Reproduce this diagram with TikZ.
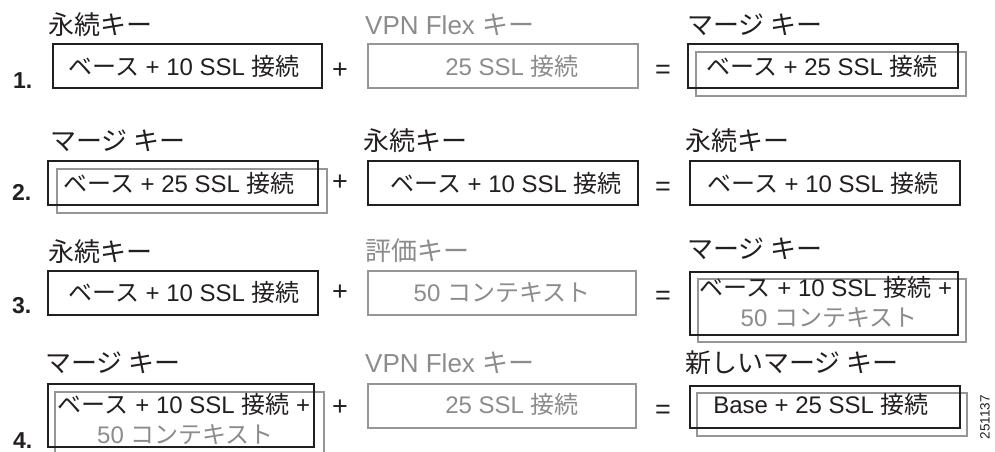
\documentclass[tikz,border=0pt]{standalone}
\usepackage{fontspec}
\setmainfont{Liberation Sans}
\newfontfamily\jpfont{Noto Sans CJK JP}
\newcommand{\J}[1]{{\jpfont #1}}
\definecolor{ink}{RGB}{35,31,32}
\definecolor{lgray}{RGB}{150,150,150}
\definecolor{tgray}{RGB}{140,140,140}
\tikzset{
  kbox/.style={draw=ink, line width=2.3pt, inner sep=0pt, outer sep=0pt, minimum width=270pt, minimum height=44pt},
  gbox/.style={kbox, draw=lgray, line width=2pt},
  btxt/.style={anchor=base, inner sep=0pt, text=ink, font=\fontsize{24}{28}\selectfont},
  gtxt/.style={btxt, text=tgray},
  lbl/.style={anchor=base west, inner sep=0pt, text=ink, font=\fontsize{26}{30}\selectfont},
  glbl/.style={lbl, text=tgray},
  op/.style={anchor=base, inner sep=0pt, text=ink, font=\fontsize{27}{30}\selectfont},
  num/.style={anchor=base west, inner sep=0pt, text=ink, font=\fontsize{23}{26}\selectfont\bfseries},
}
\begin{document}
\begin{tikzpicture}[x=1pt,y=-1pt]
\fill[white] (0,0) rectangle (995,452);
\useasboundingbox (0,0) rectangle (995,452);
\clip (0,0) rectangle (995,452);

% ---------- Row 1 ----------
\node[num] (n1) at (13,88) {1.};
\node[lbl] (l11) at (48,35) {\J{永続キー}};
\node[kbox, minimum width=269pt] (b11) at (187.5,66) {};
\node[btxt] (t11) at (184,75) {\J{ベース} + 10 SSL \J{接続}};
\node[op] (p1) at (340,78) {+};
\node[glbl] (l12) at (365,35) {VPN Flex \J{キー}};
\node[gbox] (b12) at (503,66) {};
\node[gtxt] (t12) at (512,75) {25 SSL \J{接続}};
\node[op] (e1) at (663,78) {=};
\node[lbl] (l13) at (687,35) {\J{マージ キー}};
\node[gbox] (g13) at (831,74) {};
\node[kbox] (b13) at (823,66) {};
\node[btxt] (t13) at (822,75) {\J{ベース} + 25 SSL \J{接続}};

% ---------- Row 2 ----------
\node[num] (n2) at (12,200) {2.};
\node[lbl] (l21) at (50,150) {\J{マージ キー}};
\node[gbox] (g21) at (192,191) {};
\node[kbox] (b21) at (183,183) {};
\node[btxt] (t21) at (179,192) {\J{ベース} + 25 SSL \J{接続}};
\node[op] (p2) at (340,190) {+};
\node[lbl] (l22) at (363,150) {\J{永続キー}};
\node[kbox] (b22) at (503,183) {};
\node[btxt] (t22) at (506,192) {\J{ベース} + 10 SSL \J{接続}};
\node[op] (e2) at (663,195) {=};
\node[lbl] (l23) at (685,150) {\J{永続キー}};
\node[kbox] (b23) at (825,183) {};
\node[btxt] (t23) at (823,192) {\J{ベース} + 10 SSL \J{接続}};

% ---------- Row 3 ----------
\node[num] (n3) at (12,313) {3.};
\node[lbl] (l31) at (48,261) {\J{永続キー}};
\node[kbox] (b31) at (183,293) {};
\node[btxt] (t31) at (184,301) {\J{ベース} + 10 SSL \J{接続}};
\node[op] (p3) at (340,300) {+};
\node[glbl] (l32) at (365,260) {\J{評価キー}};
\node[gbox, minimum width=268pt] (b32) at (502,293) {};
\node[gtxt] (t32) at (502,301) {50 \J{コンテキスト}};
\node[op] (e3) at (663,304) {=};
\node[lbl] (l33) at (687,258) {\J{マージ キー}};
\node[gbox, minimum width=268pt, minimum height=63pt] (g33) at (832,310.5) {};
\node[kbox, minimum width=268pt, minimum height=63pt] (b33) at (824,303.5) {};
\node[btxt] (t33a) at (826,296) {\J{ベース} + 10 SSL \J{接続} +};
\node[gtxt] (t33b) at (829,326) {50 \J{コンテキスト}};

% ---------- Row 4 ----------
\node[num] (n4) at (13,448) {4.};
\node[lbl] (l41) at (45,372) {\J{マージ キー}};
\node[gbox, minimum width=269pt, minimum height=70pt] (g41) at (189.5,427) {};
\node[kbox, minimum width=266pt, minimum height=63pt] (b41) at (181,415.5) {};
\node[btxt] (t41a) at (184,413) {\J{ベース} + 10 SSL \J{接続} +};
\node[gtxt] (t41b) at (185.5,443) {50 \J{コンテキスト}};
\node[op] (p4) at (340,415) {+};
\node[glbl] (l42) at (365,372) {VPN Flex \J{キー}};
\node[gbox, minimum width=268pt] (b42) at (502,406) {};
\node[gtxt] (t42) at (512,413) {25 SSL \J{接続}};
\node[op] (e4) at (663,418) {=};
\node[lbl] (l43) at (685,372) {\J{新しいマージ キー}};
\node[gbox, minimum height=43pt] (g43) at (832,414.5) {};
\node[kbox, minimum height=42pt] (b43) at (825,407) {};
\node[btxt] (t43) at (821,413) {Base + 25 SSL \J{接続}};

\node[inner sep=0pt, text=ink, rotate=90, font=\fontsize{13.5}{16}\selectfont] (id) at (985,417) {251137};
\end{tikzpicture}
\end{document}
